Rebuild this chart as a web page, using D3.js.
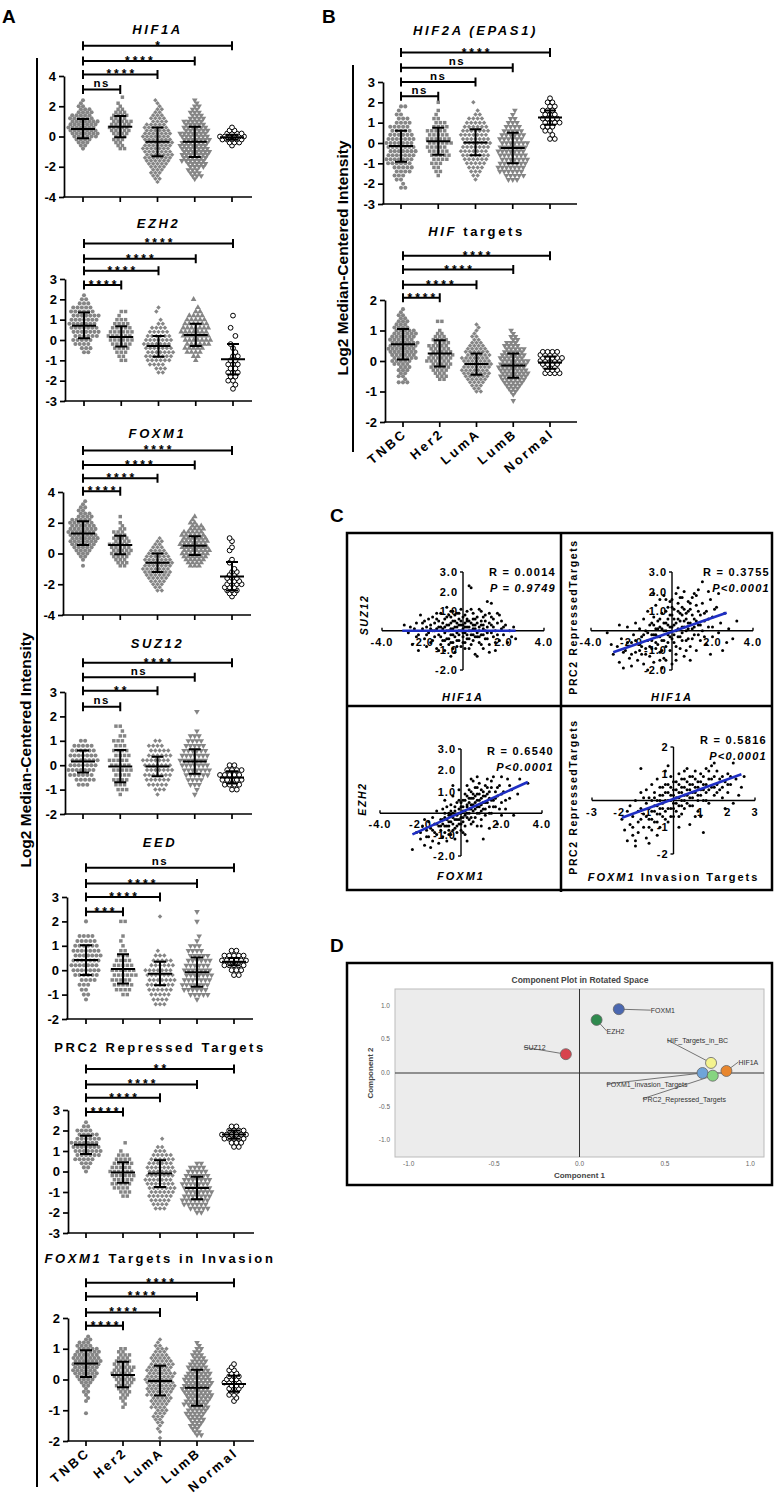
<!DOCTYPE html>
<html><head><meta charset="utf-8">
<script src="https://cdn.jsdelivr.net/npm/d3@7"></script>
<style>
body{margin:0;background:#fff;}
svg{display:block;}
</style></head><body>
<svg id="fig" width="775" height="1503"></svg>
<script>
const groups = ["TNBC","Her2","LumA","LumB","Normal"];

// ---------- Panel A / B dot-plot data (counts of points per value bin) ----------
// HIF1A
const hif1aStart = [-0.8,-0.8,-3.0,-2.8,-0.6];
const hif1aCounts = [
 [1,2,3,4,6,7,7,7,7,7,6,5,4,3,2,1,1],
 [2,2,2,3,3,4,5,5,5,5,4,4,3,2,1,1,0,1],
 [1,2,2,3,3,4,5,6,7,7,7,7,7,7,7,7,7,6,6,5,4,4,3,2,2,1,1,1],
 [1,3,3,3,4,5,6,6,7,7,7,7,7,7,7,7,6,6,5,5,4,3,3,2,2,1,1],
 [1,3,5,6,4,2,1]];
const hif1aMean = [0.5,0.65,-0.35,-0.35,-0.05];
const hif1aSdHi = [1.15,1.35,0.6,0.65,0.12];
const hif1aSdLo = [-0.12,-0.05,-1.3,-1.35,-0.22];
const hif1aSig = ["ns","****","****","*"];
const hif1aSigAt = [3.1,4.1,5.0,6.0];
const hif1aTicks = [-4,-2,0,2,4];

// EZH2
const ezh2Start = [-0.6,-1.0,-1.6,-1.0,-2.4];
const ezh2Counts = [
 [2,3,4,5,6,7,7,7,7,7,6,5,3,2,1],
 [2,2,3,4,5,6,6,6,5,4,3,1,2],
 [2,3,4,6,7,7,7,7,7,6,5,4,2,1,0,1,1],
 [1,2,4,5,6,7,7,7,7,6,5,4,2,1,0,1],
 [1,1,2,2,3,2,3,2,2,1,1,1,0,1,0,1,0,0,1]];
const ezh2Mean = [0.7,0.15,-0.3,0.25,-0.95];
const ezh2SdHi = [1.35,0.68,0.2,0.8,-0.2];
const ezh2SdLo = [0.08,-0.32,-0.82,-0.3,-1.7];
const ezh2Sig = ["****","****","****","****"];
const ezh2SigAt = [2.7,3.4,4.0,4.75];
const ezh2Ticks = [-3,-2,-1,0,1,2,3];

// FOXM1
const foxm1Start = [-0.8,-0.8,-2.4,-0.8,-2.8];
const foxm1Counts = [
 [1,0,1,2,3,4,5,6,7,7,7,7,7,6,6,5,4,3,2,2,1,1],
 [2,3,3,4,5,5,5,5,4,4,3,3,2,1,1,0,1],
 [2,2,3,4,5,6,7,7,7,7,7,6,5,4,3,2,2,1],
 [3,4,5,6,7,7,7,7,7,6,6,5,4,3,2,1,1],
 [1,2,3,3,4,3,3,2,2,1,0,1,1,0,0,1,1,0,1,1]];
const foxm1Mean = [1.3,0.55,-0.6,0.5,-1.5];
const foxm1SdHi = [2.1,1.15,0.0,1.12,-0.55];
const foxm1SdLo = [0.55,-0.05,-1.2,-0.1,-2.4];
const foxm1Sig = ["****","****","****","****"];
const foxm1SigAt = [4.05,4.9,5.75,6.7];
const foxm1Ticks = [-4,-2,0,2,4];

// SUZ12
const suz12Start = [-0.8,-1.2,-1.2,-1.2,-1.0];
const suz12Counts = [
 [3,5,6,7,7,7,7,6,5,2],
 [1,3,3,4,4,5,5,5,4,4,3,3,2,1,2],
 [1,3,5,6,7,7,7,7,6,5,4,2],
 [1,1,3,4,6,7,7,7,7,6,5,4,3,1,0,0,0,1],
 [2,4,5,5,4,2]];
const suz12Mean = [0.15,-0.05,-0.05,0.15,-0.5];
const suz12SdHi = [0.6,0.62,0.35,0.65,-0.25];
const suz12SdLo = [-0.3,-0.7,-0.45,-0.35,-0.75];
const suz12Sig = ["ns","**","ns","****"];
const suz12SigAt = [2.4,3.05,3.6,4.2];
const suz12Ticks = [-2,-1,0,1,2,3];

// EED
const eedStart = [-1.2,-1.0,-1.4,-1.2,-0.2];
const eedCounts = [
 [1,2,2,3,4,6,7,7,7,7,7,6,5,4,0,0,1],
 [2,4,5,5,6,6,5,4,3,2,1,1,1,0,0,2],
 [3,4,5,6,7,7,7,7,6,5,3,1,0,0,0,0,0,0,1],
 [1,5,6,7,7,7,7,6,6,5,4,3,1,1,0,0,1,0,1],
 [2,3,5,6,5,2]];
const eedMean = [0.42,0.05,-0.15,-0.08,0.35];
const eedSdHi = [1.02,0.65,0.35,0.52,0.5];
const eedSdLo = [-0.2,-0.55,-0.62,-0.68,0.2];
const eedSig = ["***","****","****","ns"];
const eedSigAt = [2.4,3.0,3.55,4.2];
const eedTicks = [-2,-1,0,1,2,3];

// PRC2 Repressed Targets
const prc2Start = [0.0,-1.2,-1.8,-2.0,1.2];
const prc2Counts = [
 [1,2,3,5,6,7,7,7,6,5,4,2,1],
 [2,3,4,5,5,6,6,5,5,4,3,1,0,1],
 [3,4,5,6,6,7,7,7,7,7,7,6,6,5,3,2,0,1],
 [2,5,6,7,7,7,7,7,7,6,5,4,2],
 [2,3,5,6,4,2]];
const prc2Mean = [1.3,-0.05,-0.1,-0.8,1.8];
const prc2SdHi = [1.75,0.45,0.55,-0.25,2.0];
const prc2SdLo = [0.85,-0.55,-0.75,-1.35,1.6];
const prc2Sig = ["****","****","****","**"];
const prc2SigAt = [2.9,3.6,4.25,5.0];
const prc2Ticks = [-3,-2,-1,0,1,2,3];

// FOXM1 Targets in Invasion
const invStart = [-1.1,-0.9,-1.9,-1.8,-0.7];
const invCounts = [
 [1,0,0,0,1,1,1,2,1,2,3,4,5,6,6,6,7,7,7,6,6,5,4,3,2,1],
 [1,1,1,2,2,3,3,4,4,5,5,5,5,5,4,4,3,3,2,2],
 [1,0,1,1,1,2,2,3,3,3,4,4,5,5,6,6,7,7,7,7,7,7,6,6,6,5,5,4,3,3,2,1,1],
 [2,2,2,3,3,4,4,5,5,5,6,6,6,7,7,7,7,7,7,6,6,5,5,4,4,3,3,2,2,1,1],
 [1,1,2,2,3,3,4,3,3,2,2,1,1]];
const invMean = [0.52,0.15,-0.05,-0.27,-0.15];
const invSdHi = [0.95,0.58,0.45,0.32,0.12];
const invSdLo = [0.08,-0.25,-0.52,-0.85,-0.4];
const invSig = ["****","****","****","****"];
const invSigAt = [1.75,2.18,2.7,3.15];
const invTicks = [-2,-1,0,1,2];

// HIF2A (EPAS1)
const hif2aStart = [-2.2,-1.6,-1.8,-1.8,0.2];
const hif2aCounts = [
 [2,1,2,3,4,5,6,7,7,7,7,7,7,6,5,5,4,3,2,1,2],
 [1,2,2,3,4,5,5,5,6,6,5,5,4,3,2,1,1,0,1],
 [1,2,3,4,5,6,7,7,7,7,7,7,7,6,5,4,2,1,0,1],
 [3,5,6,7,7,7,7,7,7,7,6,6,5,4,3,2,1,1],
 [2,1,2,3,4,4,3,3,2,2,1]];
const hif2aMean = [-0.15,0.08,0.03,-0.25,1.25];
const hif2aSdHi = [0.6,0.75,0.68,0.5,1.6];
const hif2aSdLo = [-0.92,-0.58,-0.6,-1.0,0.9];
const hif2aSig = ["ns","ns","ns","****"];
const hif2aSigAt = [2.3,3.0,3.7,4.45];
const hif2aTicks = [-3,-2,-1,0,1,2,3];

// HIF targets
const hifTStart = [-0.7,-0.6,-1.0,-1.3,-0.4];
const hifTCounts = [
 [3,1,2,2,3,3,4,5,6,6,7,7,7,7,6,6,6,5,4,3,3,2,2,1,1],
 [2,3,3,4,5,5,6,6,6,5,5,5,4,4,3,2,1,0,0,2],
 [2,2,3,4,5,6,7,7,7,7,7,7,6,6,5,4,3,2,2,1,1,1,1],
 [1,0,1,2,3,4,5,6,7,7,7,7,7,7,6,6,5,5,4,3,2,2,1,1],
 [4,3,3,4,5,5,4,4]];
const hifTMean = [0.55,0.25,-0.1,-0.15,-0.05];
const hifTSdHi = [1.05,0.68,0.25,0.25,0.15];
const hifTSdLo = [0.05,-0.18,-0.45,-0.55,-0.25];
const hifTSig = ["****","****","****","****"];
const hifTSigAt = [2.07,2.5,3.0,3.45];
const hifTTicks = [-2,-1,0,1,2];

// ---------- Panel C scatter data ----------
const c1Points = [[-2.9,0.3],[-2.7,-0.1],[-2.6,0.2],[-2.5,-0.7],[-2.4,0.1],[-2.3,0.4],[-2.2,-0.2],[-2.1,0.8],[-2.0,0.1],[-1.9,-0.4],[-1.9,0.5],[-1.8,0.2],[-1.7,-0.1],[-1.7,0.6],[-1.6,-0.6],[-1.6,0.3],[-1.5,0.0],[-1.5,0.7],[-1.4,-0.3],[-1.4,0.4],[-1.3,0.1],[-1.3,-0.9],[-1.2,0.5],[-1.2,-0.2],[-1.1,0.2],[-1.1,0.9],[-1.0,-0.5],[-1.0,0.1],[-0.9,0.6],[-0.9,-0.1],[-0.9,-1.0],[-0.8,0.3],[-0.8,-0.4],[-0.7,0.8],[-0.7,0.0],[-0.7,-0.7],[-0.6,0.4],[-0.6,-0.2],[-0.5,1.0],[-0.5,0.1],[-0.5,-0.6],[-0.4,0.5],[-0.4,-0.3],[-0.4,-1.1],[-0.3,0.2],[-0.3,0.9],[-0.3,-0.1],[-0.2,0.6],[-0.2,-0.5],[-0.2,0.0],[-0.1,0.3],[-0.1,-0.8],[-0.1,1.1],[0.0,0.1],[0.0,-0.3],[0.0,0.7],[0.1,-0.1],[0.1,0.4],[0.1,-0.9],[0.2,0.2],[0.2,-0.4],[0.2,1.0],[0.3,2.3],[0.4,2.2],[0.3,0.0],[0.3,0.5],[0.4,-0.2],[0.4,-0.7],[0.5,0.3],[0.5,0.9],[0.5,-0.5],[0.6,0.1],[0.6,-1.2],[0.6,0.6],[0.7,-0.3],[0.7,0.4],[0.8,0.0],[0.8,1.1],[0.8,-0.6],[0.9,0.3],[0.9,-0.2],[1.0,0.7],[1.0,-0.9],[1.0,0.1],[1.1,0.5],[1.1,-0.4],[1.2,0.2],[1.2,-0.1],[1.2,1.5],[1.3,0.9],[1.3,-0.7],[1.4,0.3],[1.4,1.4],[1.5,-0.3],[1.5,0.6],[1.6,0.0],[1.6,-1.0],[1.7,0.4],[1.8,-0.5],[1.8,0.8],[1.9,0.1],[2.0,-0.2],[2.1,0.3],[2.2,-0.6],[2.3,0.0],[2.4,-0.3],[2.5,0.2],[2.6,-0.4],[-1.8,-0.8],[-1.2,-1.0],[-0.6,-1.3],[0.7,-1.3],[1.3,-1.1],[-2.2,-1.0],[0.9,1.0],[-0.8,1.2],[1.6,-0.6],[-1.5,-0.5],[0.2,0.5],[-0.6,0.7],[0.5,-0.2],[-0.2,0.3],[0.0,-0.6],
 [-1.4,0.0],[-1.3,0.6],[-1.2,0.2],[-1.1,-0.3],[-1.0,0.4],[-0.9,0.2],[-0.9,-0.5],[-0.8,0.0],[-0.8,0.7],[-0.7,0.3],[-0.7,-0.4],[-0.6,0.1],[-0.6,-0.6],[-0.5,0.5],[-0.5,-0.2],[-0.4,0.2],[-0.4,0.8],[-0.3,-0.5],[-0.3,0.4],[-0.2,-0.2],[-0.2,0.9],[-0.1,0.0],[-0.1,0.5],[0.0,0.3],[0.0,-0.1],[0.1,0.8],[0.1,0.2],[0.2,-0.2],[0.2,0.6],[0.3,0.2],[0.3,-0.4],[0.4,0.4],[0.4,0.0],[0.5,0.6],[0.5,0.1],[0.6,-0.3],[0.6,0.3],[0.7,0.7],[0.7,-0.1],[0.8,0.2],[0.8,-0.3],[0.9,0.5],[1.0,-0.2],[1.0,0.3],[1.1,0.0],[1.1,0.8],[1.2,-0.4],[1.3,0.4],[1.4,-0.1],[1.5,0.2],[1.7,-0.2],[1.9,0.5],[2.0,0.2],[-1.6,0.1],[-1.8,-0.2],[-2.0,0.4],[-2.3,-0.3],[-1.1,-0.7],[-0.3,-0.8],[0.3,-0.9],[0.9,-0.7],[1.4,0.7],[-0.6,1.0],[0.4,1.1],[-1.3,0.9],[0.1,-0.6],[-0.5,-0.9],[1.7,0.9]];
const c2Points = [[-3.2,-0.1],[-2.9,-1.2],[-2.7,-0.8],[-2.6,-1.6],[-2.5,-0.4],[-2.4,-1.9],[-2.3,-1.0],[-2.2,0.2],[-2.1,-1.4],[-2.0,-0.6],[-2.0,-1.8],[-1.9,-0.2],[-1.8,-1.1],[-1.8,0.4],[-1.7,-1.5],[-1.6,-0.7],[-1.6,0.1],[-1.5,-1.2],[-1.5,-0.3],[-1.4,0.6],[-1.4,-1.7],[-1.3,-0.9],[-1.3,0.0],[-1.2,-0.5],[-1.2,1.0],[-1.1,-1.3],[-1.1,0.3],[-1.0,-0.2],[-1.0,-0.9],[-0.9,0.7],[-0.9,-1.6],[-0.8,0.1],[-0.8,-0.6],[-0.8,1.3],[-0.7,-0.3],[-0.7,0.5],[-0.6,-1.1],[-0.6,1.6],[-0.6,0.2],[-0.5,-0.5],[-0.5,0.9],[-0.4,-1.4],[-0.4,0.0],[-0.4,1.8],[-0.3,0.4],[-0.3,-0.8],[-0.2,1.2],[-0.2,-0.2],[-0.2,0.6],[-0.1,-1.0],[-0.1,0.2],[-0.1,1.5],[0.0,-0.4],[0.0,0.8],[0.0,-1.7],[0.1,0.3],[0.1,1.1],[0.1,-0.6],[0.2,1.9],[0.2,0.0],[0.2,-1.2],[0.3,0.6],[0.3,1.4],[0.3,-0.3],[0.4,0.9],[0.4,-0.9],[0.4,1.7],[0.5,0.2],[0.5,-0.5],[0.5,1.2],[0.6,0.5],[0.6,-1.3],[0.6,2.0],[0.7,0.0],[0.7,0.9],[0.8,1.5],[0.8,-0.4],[0.8,0.4],[0.9,1.1],[0.9,-0.8],[1.0,0.1],[1.0,1.7],[1.1,0.6],[1.1,-0.2],[1.2,1.3],[1.2,-1.0],[1.3,0.3],[1.3,2.1],[1.4,0.8],[1.4,-0.5],[1.5,1.4],[1.5,0.0],[1.6,0.5],[1.7,1.0],[1.7,-0.7],[1.8,0.2],[1.9,1.6],[2.0,-0.3],[2.0,0.7],[2.2,1.2],[2.3,-0.1],[2.4,0.4],[2.5,-1.0],[2.6,0.9],[2.8,0.1],[3.0,-0.4],[3.2,0.5],[1.8,2.0],[1.5,2.5],[2.3,1.9],[-0.5,-1.9],[-1.2,-2.0],[0.9,-1.5],[-2.6,0.3],[-3.0,-0.7],[0.3,2.2],[-0.9,1.9],[1.1,1.9],[0.7,-1.0],[-0.3,-1.5],[2.7,-0.6],[1.9,-1.2],
 [-1.5,-0.8],[-1.4,-0.2],[-1.3,-1.2],[-1.2,-0.1],[-1.1,-0.8],[-1.0,0.4],[-1.0,-0.5],[-0.9,-0.2],[-0.9,0.3],[-0.8,-0.9],[-0.8,-0.2],[-0.7,0.1],[-0.7,-0.7],[-0.6,-0.3],[-0.6,0.6],[-0.5,0.1],[-0.5,-1.0],[-0.4,0.4],[-0.4,-0.5],[-0.3,0.0],[-0.3,1.0],[-0.2,-0.6],[-0.2,0.3],[-0.1,0.8],[-0.1,-0.3],[0.0,0.2],[0.0,1.2],[0.1,-0.2],[0.1,0.6],[0.2,0.4],[0.2,-0.8],[0.3,1.0],[0.3,0.1],[0.4,-0.3],[0.4,0.5],[0.5,0.8],[0.5,-0.1],[0.6,1.1],[0.6,0.2],[0.7,0.6],[0.7,-0.5],[0.8,0.1],[0.8,1.0],[0.9,0.4],[0.9,1.4],[1.0,-0.4],[1.0,0.8],[1.1,0.2],[1.2,0.5],[1.3,1.0],[1.3,-0.2],[1.4,0.3],[1.6,0.9],[1.6,-0.3],[1.8,0.6],[2.0,0.2],[2.1,1.1],[-1.6,-1.0],[-1.8,-0.5],[-2.0,-1.2],[-2.2,-0.6],[-2.4,-1.1],[-0.3,1.6],[0.0,1.6],[0.5,1.7],[-0.6,-1.5],[0.2,-1.5],[1.2,1.8]];
const c3Points = [[-2.4,-1.7],[-2.2,-0.9],[-2.0,-1.2],[-1.9,-0.6],[-1.8,-1.5],[-1.7,-0.8],[-1.6,-0.4],[-1.6,-1.1],[-1.5,-0.7],[-1.4,-1.3],[-1.4,-0.2],[-1.3,-0.9],[-1.3,-0.5],[-1.2,-1.0],[-1.2,0.1],[-1.1,-0.6],[-1.1,-1.4],[-1.0,-0.3],[-1.0,-0.8],[-0.9,0.2],[-0.9,-1.1],[-0.9,-0.5],[-0.8,-0.2],[-0.8,-0.9],[-0.7,-0.6],[-0.7,0.3],[-0.7,-1.3],[-0.6,-0.4],[-0.6,0.0],[-0.6,-0.8],[-0.5,-0.1],[-0.5,-1.0],[-0.5,0.4],[-0.4,-0.5],[-0.4,-0.2],[-0.4,0.8],[-0.3,-0.7],[-0.3,0.1],[-0.3,-1.2],[-0.2,-0.3],[-0.2,0.5],[-0.2,-0.9],[-0.1,0.0],[-0.1,-0.5],[-0.1,1.1],[0.0,0.3],[0.0,-0.2],[0.0,-0.8],[0.1,0.6],[0.1,-0.4],[0.1,0.1],[0.2,0.9],[0.2,-0.1],[0.2,-0.6],[0.3,0.4],[0.3,1.3],[0.3,0.0],[0.4,-0.3],[0.4,0.7],[0.4,0.2],[0.5,1.0],[0.5,-0.5],[0.5,0.4],[0.6,0.1],[0.6,1.5],[0.6,0.7],[0.7,-0.2],[0.7,0.5],[0.7,1.2],[0.8,0.3],[0.8,0.9],[0.8,-0.6],[0.9,0.6],[0.9,1.4],[0.9,0.0],[1.0,0.4],[1.0,1.1],[1.0,-0.3],[1.1,0.8],[1.1,0.2],[1.2,1.3],[1.2,0.5],[1.2,-0.1],[1.3,0.9],[1.3,1.6],[1.4,0.3],[1.4,0.7],[1.5,1.2],[1.5,0.0],[1.6,0.6],[1.6,1.7],[1.7,1.0],[1.7,0.3],[1.8,0.8],[1.8,-0.5],[1.9,1.3],[2.0,0.5],[2.0,-0.1],[2.1,1.0],[2.2,0.2],[2.3,1.6],[2.4,0.7],[2.5,1.1],[2.6,-0.1],[2.8,0.9],[2.9,1.6],[3.3,1.4],[1.1,-1.2],[0.3,-1.3],[-1.8,-0.3],[0.5,1.6],[-0.4,1.3],[2.0,1.7],[1.4,-0.7],[0.8,1.7],[-1.5,-1.6],[-0.8,0.6],[0.2,-1.0],[1.9,0.2],[-0.1,0.6],
 [-1.0,-0.6],[-0.9,-0.3],[-0.8,-0.6],[-0.8,0.0],[-0.7,-0.3],[-0.6,-0.6],[-0.6,-0.1],[-0.5,-0.4],[-0.5,0.1],[-0.4,-0.8],[-0.4,0.0],[-0.3,-0.3],[-0.3,0.3],[-0.2,-0.1],[-0.2,-0.6],[-0.1,0.2],[-0.1,-0.3],[0.0,0.0],[0.0,0.5],[0.0,-0.5],[0.1,0.3],[0.1,-0.2],[0.2,0.1],[0.2,0.6],[0.3,-0.2],[0.3,0.3],[0.3,0.8],[0.4,0.0],[0.4,0.5],[0.5,0.2],[0.5,0.7],[0.5,-0.2],[0.6,0.4],[0.6,0.9],[0.6,-0.4],[0.7,0.2],[0.7,0.8],[0.8,0.0],[0.8,0.6],[0.8,1.2],[0.9,0.3],[0.9,0.9],[1.0,0.1],[1.0,0.7],[1.1,0.5],[1.1,1.0],[1.2,0.2],[1.2,0.8],[1.3,0.5],[1.3,1.2],[1.4,0.0],[1.4,1.0],[1.5,0.6],[1.6,0.3],[1.7,0.7],[1.8,1.2],[2.0,0.9],[2.2,0.6],[-1.2,-0.5],[-1.4,-0.8],[-1.7,-1.1],[-2.0,-0.9],[0.1,-0.9],[-0.6,-1.0],[1.5,1.5],[0.4,1.1],[2.4,1.3],[1.0,-0.6]];
const c4Points = [[-1.9,-0.7],[-1.8,-1.1],[-1.7,-0.4],[-1.7,-1.5],[-1.6,-0.9],[-1.6,-0.2],[-1.5,-1.3],[-1.5,-0.6],[-1.4,-1.7],[-1.4,0.0],[-1.3,-0.8],[-1.3,-1.2],[-1.2,-0.3],[-1.2,0.3],[-1.1,-1.0],[-1.1,-0.5],[-1.0,-0.1],[-1.0,-1.4],[-1.0,0.4],[-0.9,-0.7],[-0.9,0.1],[-0.8,-0.4],[-0.8,-1.1],[-0.8,0.6],[-0.7,-0.2],[-0.7,0.3],[-0.7,-0.8],[-0.6,0.0],[-0.6,-0.5],[-0.6,0.8],[-0.5,-0.3],[-0.5,0.2],[-0.5,-1.0],[-0.4,0.5],[-0.4,-0.1],[-0.4,-0.6],[-0.3,0.3],[-0.3,-0.4],[-0.3,1.1],[-0.2,0.0],[-0.2,0.6],[-0.2,-0.8],[-0.1,0.2],[-0.1,-0.3],[-0.1,0.9],[0.0,0.4],[0.0,-0.1],[0.0,-0.6],[0.1,0.1],[0.1,0.7],[0.1,-0.4],[0.2,0.3],[0.2,-0.2],[0.2,1.0],[0.3,0.5],[0.3,-0.5],[0.3,0.0],[0.4,0.2],[0.4,0.8],[0.4,-0.3],[0.5,0.4],[0.5,-0.1],[0.5,1.2],[0.6,0.6],[0.6,0.1],[0.7,-0.2],[0.7,0.9],[0.7,0.3],[0.8,0.5],[0.8,1.1],[0.9,0.2],[0.9,0.7],[0.9,-0.4],[1.0,0.4],[1.0,1.0],[1.1,0.6],[1.1,0.0],[1.2,1.2],[1.2,0.3],[1.3,0.8],[1.3,-0.1],[1.4,0.5],[1.4,1.3],[1.5,0.9],[1.5,0.2],[1.6,0.6],[1.6,1.1],[1.7,0.4],[1.8,0.9],[1.8,0.1],[1.9,0.7],[2.0,1.0],[2.0,0.3],[2.1,0.6],[2.2,-0.1],[2.3,0.8],[2.4,0.2],[2.6,0.9],[1.1,-1.2],[-1.2,1.2],[0.6,-0.9],[1.5,1.4],[2.2,1.4],[-0.9,-1.6],[-1.4,-1.5],[0.2,-1.0],[-0.6,-1.3],[1.0,-0.6],[2.5,0.5],[1.9,-0.3],[0.8,-0.6],[-0.2,1.3],
 [-1.0,-0.6],[-0.9,-0.3],[-0.9,-1.0],[-0.8,0.0],[-0.8,-0.7],[-0.7,-0.4],[-0.7,0.1],[-0.6,-0.2],[-0.6,-0.8],[-0.5,0.0],[-0.5,-0.5],[-0.4,0.2],[-0.4,-0.3],[-0.3,0.0],[-0.3,0.6],[-0.3,-0.7],[-0.2,0.3],[-0.2,-0.3],[-0.1,0.5],[-0.1,0.0],[0.0,0.2],[0.0,0.7],[0.0,-0.3],[0.1,0.4],[0.1,-0.1],[0.2,0.1],[0.2,0.6],[0.3,0.3],[0.3,0.8],[0.3,-0.2],[0.4,0.5],[0.4,0.0],[0.5,0.2],[0.5,0.7],[0.6,0.4],[0.6,-0.2],[0.6,0.9],[0.7,0.1],[0.7,0.6],[0.8,0.3],[0.8,0.8],[0.9,0.5],[0.9,0.0],[1.0,0.7],[1.0,0.2],[1.1,0.4],[1.1,0.9],[1.2,0.6],[1.2,0.0],[1.3,0.4],[1.4,0.8],[1.5,0.5],[1.6,0.3],[1.7,0.8],[1.8,0.5],[2.0,0.6],[-1.2,-0.7],[-1.3,-0.4],[-1.5,-1.0],[-1.1,0.1],[0.2,-0.6],[-0.5,0.5],[1.3,1.1],[0.4,1.1],[2.1,0.9],[-0.1,-0.6]];
const cFitSlope = [0.0, 0.36, 0.43, 0.37];
const cFitIntercept = [0.0, -0.05, 0.04, 0.055];
const cFitFrom = [-3.0, -2.9, -2.4, -1.9];
const cFitTo = [2.6, 2.7, 3.3, 2.5];
const cR = ["R = 0.0014","R = 0.3755","R = 0.6540","R = 0.5816"];
const cP = ["P = 0.9749","P<0.0001","P<0.0001","P<0.0001"];
const cXTicks123 = [-4,-2,2,4];
const cYTicks123 = [-2,-1,1,2,3];
const cXTicks4 = [-3,-2,-1,1,2,3];
const cYTicks4 = [-2,-1,1,2];

// ---------- Panel D data ----------
const compNames = ["FOXM1","EZH2","SUZ12","HIF_Targets_in_BC","HIF1A","FOXM1_Invasion_Targets","PRC2_Repressed_Targets"];
const comp1 = [0.23,0.10,-0.08,0.77,0.86,0.72,0.78];
const comp2 = [0.95,0.79,0.28,0.15,0.03,0.00,-0.04];
const compColors = ["#4a67b0","#2f8a4e","#d8434e","#f4f38e","#e8862d","#6fa4d9","#86d480"];
const dTicks = [-1.0,-0.5,0.0,0.5,1.0];

// ---------- drawing ----------
const FONT = "Arial, 'Liberation Sans', Helvetica, sans-serif";
const svg = d3.select("#fig").attr("font-family", FONT);
const GRAY = "#858585";

function styled(sel, parts){ parts.forEach(([t,it]) => sel.append("tspan").attr("font-style", it ? "italic" : "normal").text(t)); }

const symbols = {
  circle: d3.symbol(d3.symbolCircle, 13)(),
  square: d3.symbol(d3.symbolSquare, 12)(),
  diamond: d3.symbol(d3.symbolSquare, 10)(),
  triUp: d3.symbol(d3.symbolTriangle, 14)(),
  triDown: d3.symbol(d3.symbolTriangle, 14)()
};
const symRot = {circle:0, square:0, diamond:45, triUp:0, triDown:180};

function dotPanel(p){
  const g = svg.append("g");
  const y = d3.scaleLinear().domain(p.domain).range([p.yBot, p.yTop]);
  const x = d3.scalePoint().domain(groups).range([p.g0, p.g1]);
  const tt = g.append("text").attr("x", (p.g0+p.g1)/2).attr("y", p.titleY).attr("text-anchor","middle")
    .attr("font-size",13).attr("font-weight","bold").attr("letter-spacing",2.6);
  styled(tt, p.title);
  const ax = g.append("g").attr("transform",`translate(${p.axisX},0)`)
    .call(d3.axisLeft(y).tickValues(p.ticks).tickFormat(d=>String(d)).tickSize(5).tickSizeOuter(0));
  ax.attr("font-family", FONT);
  ax.select(".domain").attr("stroke-width",1.7);
  ax.selectAll(".tick line").attr("stroke-width",1.7);
  ax.selectAll(".tick text").attr("font-size",13).attr("font-weight","bold").attr("x",-8);
  g.append("line").attr("x1",p.axisX-0.8).attr("x2",p.xEnd).attr("y1",p.yBot).attr("y2",p.yBot).attr("stroke","#000").attr("stroke-width",1.7);
  g.selectAll("line.xt").data(groups).join("line").attr("class","xt")
    .attr("x1",d=>x(d)).attr("x2",d=>x(d)).attr("y1",p.yBot).attr("y2",p.yBot+5).attr("stroke","#000").attr("stroke-width",1.7);
  groups.forEach((gn, gi) => {
    const cx = x(gn);
    const open = gi === 4;
    const kind = p.shapes[gi];
    const sp = open ? 4.8 : 4.3, maxW = open ? 24 : 25;
    p.counts[gi].forEach((n, bi) => {
      if (!n) return;
      const v = p.start[gi] + bi*p.step;
      const s = n > 1 ? Math.min(sp, maxW/(n-1)) : sp;
      const wantHalf = bi % 2 === 1;
      const isHalf = n % 2 === 0;
      const shift = (wantHalf !== isHalf) ? ((bi % 4 < 2) ? s/2 : -s/2) : 0;
      for (let j=0;j<n;j++){
        const px = cx + (j-(n-1)/2)*s + shift, py = y(v);
        if (open){
          g.append("circle").attr("cx",px).attr("cy",py).attr("r",2.4).attr("fill","#fff").attr("stroke","#000").attr("stroke-width",1);
        } else {
          g.append("path").attr("d",symbols[kind]).attr("transform",`translate(${px},${py}) rotate(${symRot[kind]})`).attr("fill",GRAY);
        }
      }
    });
    const ym = y(p.mean[gi]), yh = y(p.hi[gi]), yl = y(p.lo[gi]);
    const eb = d3.path();
    eb.moveTo(cx, yh); eb.lineTo(cx, yl);
    eb.moveTo(cx-12, ym); eb.lineTo(cx+12, ym);
    eb.moveTo(cx-6, yh); eb.lineTo(cx+6, yh);
    eb.moveTo(cx-6, yl); eb.lineTo(cx+6, yl);
    g.append("path").attr("d", eb.toString()).attr("stroke","#000").attr("stroke-width",2).attr("fill","none");
  });
  p.sig.forEach((lab, k) => {
    const ly = y(p.sigAt[k]);
    const x1 = x(groups[0]), x2 = x(groups[k+1]);
    const bp = d3.path();
    bp.moveTo(x1, ly-4.5); bp.lineTo(x1, ly+4.5);
    bp.moveTo(x1, ly); bp.lineTo(x2, ly);
    bp.moveTo(x2, ly-4.5); bp.lineTo(x2, ly+4.5);
    g.append("path").attr("d", bp.toString()).attr("stroke","#000").attr("stroke-width",2).attr("fill","none");
    const star = lab.indexOf("*") >= 0;
    g.append("text").attr("x", (x1+x2)/2 + (star?1.5:0)).attr("y", star ? ly+4 : ly-2.5).attr("text-anchor","middle")
      .attr("font-size", star?12:11.5).attr("font-weight","bold").attr("letter-spacing", star?3:1.5).text(lab);
  });
  if (p.catLabels){
    groups.forEach(gn => {
      g.append("text").attr("transform",`translate(${x(gn)+5},${p.yBot+13}) rotate(-40)`).attr("text-anchor","end")
       .attr("font-size",13).attr("font-weight","bold").attr("letter-spacing",2.6).text(gn);
    });
  }
}

const shpDown = ["circle","square","diamond","triDown","open"];
const shpUp = ["circle","square","diamond","triUp","open"];
const panels = [
 {title:[["HIF1A",true]], start:hif1aStart, counts:hif1aCounts, mean:hif1aMean, hi:hif1aSdHi, lo:hif1aSdLo, sig:hif1aSig, sigAt:hif1aSigAt, ticks:hif1aTicks,
  step:0.2, domain:[-4,4], yTop:76, yBot:197, axisX:64, g0:83, g1:232, xEnd:252, titleY:34, shapes:shpDown},
 {title:[["EZH2",true]], start:ezh2Start, counts:ezh2Counts, mean:ezh2Mean, hi:ezh2SdHi, lo:ezh2SdLo, sig:ezh2Sig, sigAt:ezh2SigAt, ticks:ezh2Ticks,
  step:0.2, domain:[-3,3], yTop:279, yBot:401, axisX:65, g0:84, g1:233, xEnd:252, titleY:228, shapes:shpUp},
 {title:[["FOXM1",true]], start:foxm1Start, counts:foxm1Counts, mean:foxm1Mean, hi:foxm1SdHi, lo:foxm1SdLo, sig:foxm1Sig, sigAt:foxm1SigAt, ticks:foxm1Ticks,
  step:0.2, domain:[-4,4], yTop:492, yBot:615, axisX:63, g0:83, g1:232, xEnd:251, titleY:438, shapes:shpUp},
 {title:[["SUZ12",true]], start:suz12Start, counts:suz12Counts, mean:suz12Mean, hi:suz12SdHi, lo:suz12SdLo, sig:suz12Sig, sigAt:suz12SigAt, ticks:suz12Ticks,
  step:0.2, domain:[-2,3], yTop:692, yBot:814, axisX:65, g0:83, g1:232, xEnd:252, titleY:648, shapes:shpDown},
 {title:[["EED",true]], start:eedStart, counts:eedCounts, mean:eedMean, hi:eedSdHi, lo:eedSdLo, sig:eedSig, sigAt:eedSigAt, ticks:eedTicks,
  step:0.2, domain:[-2,3], yTop:897, yBot:1019, axisX:67, g0:86, g1:234, xEnd:253, titleY:847, shapes:shpDown},
 {title:[["PRC2 Repressed Targets",false]], start:prc2Start, counts:prc2Counts, mean:prc2Mean, hi:prc2SdHi, lo:prc2SdLo, sig:prc2Sig, sigAt:prc2SigAt, ticks:prc2Ticks,
  step:0.2, domain:[-3,3], yTop:1110, yBot:1233, axisX:68, g0:86, g1:234, xEnd:254, titleY:1052, shapes:shpDown},
 {title:[["FOXM1",true],[" Targets in Invasion",false]], start:invStart, counts:invCounts, mean:invMean, hi:invSdHi, lo:invSdLo, sig:invSig, sigAt:invSigAt, ticks:invTicks,
  step:0.1, domain:[-2,2], yTop:1318, yBot:1441, axisX:68, g0:86, g1:234, xEnd:254, titleY:1263, shapes:shpDown, catLabels:true},
 {title:[["HIF2A (EPAS1)",true]], start:hif2aStart, counts:hif2aCounts, mean:hif2aMean, hi:hif2aSdHi, lo:hif2aSdLo, sig:hif2aSig, sigAt:hif2aSigAt, ticks:hif2aTicks,
  step:0.2, domain:[-3,3], yTop:82, yBot:204, axisX:383, g0:401, g1:550, xEnd:577, titleY:35, shapes:shpDown},
 {title:[["HIF",true],[" targets",false]], start:hifTStart, counts:hifTCounts, mean:hifTMean, hi:hifTSdHi, lo:hifTSdLo, sig:hifTSig, sigAt:hifTSigAt, ticks:hifTTicks,
  step:0.1, domain:[-2,2], yTop:300, yBot:422, axisX:385, g0:403, g1:550, xEnd:577, titleY:236, shapes:shpDown, catLabels:true}
];
panels.forEach(dotPanel);

[["A",2,23],["B",322,23],["C",330,522],["D",330,952]].forEach(([t,x,y]) =>
  svg.append("text").attr("x",x).attr("y",y).attr("font-size",19).attr("font-weight","bold").text(t));

svg.append("line").attr("x1",37).attr("x2",37).attr("y1",58).attr("y2",1487).attr("stroke","#000").attr("stroke-width",2);
svg.append("text").attr("transform","translate(31,750) rotate(-90)").attr("text-anchor","middle").attr("font-size",15.5).attr("font-weight","bold").text("Log2 Median-Centered Intensity");
svg.append("line").attr("x1",353).attr("x2",353).attr("y1",65).attr("y2",452).attr("stroke","#000").attr("stroke-width",2);
svg.append("text").attr("transform","translate(348,258) rotate(-90)").attr("text-anchor","middle").attr("font-size",15.5).attr("font-weight","bold").text("Log2 Median-Centered Intensity");

// ---------- Panel C ----------
const cPanels = [
 {pts:c1Points, xDom:[-4,4], xR:[382,544], yDom:[-2,3], yR:[670,572], xt:cXTicks123, yt:cYTicks123, fmt:1, rx:556, ry:576,
  ylab:[["SUZ12",true]], ylx:368, yly:615, xlab:[["HIF1A",true]], xly:701},
 {pts:c2Points, xDom:[-4,4], xR:[591,753], yDom:[-2,3], yR:[670,572], xt:cXTicks123, yt:cYTicks123, fmt:1, rx:770, ry:576,
  ylab:[["PRC2 RepressedTargets",false]], ylx:577, yly:617, xlab:[["HIF1A",true]], xly:701},
 {pts:c3Points, xDom:[-4,4], xR:[380,542], yDom:[-2,3], yR:[856,749], xt:cXTicks123, yt:cYTicks123, fmt:1, rx:554, ry:755,
  ylab:[["EZH2",true]], ylx:366, yly:799, xlab:[["FOXM1",true]], xly:880},
 {pts:c4Points, xDom:[-3,3], xR:[592,755], yDom:[-2,2], yR:[854,747], xt:cXTicks4, yt:cYTicks4, fmt:0, rx:767, ry:744,
  ylab:[["PRC2 RepressedTargets",false]], ylx:577, yly:797, xlab:[["FOXM1",true],[" Invasion Targets",false]], xly:881}
];
cPanels.forEach((c, i) => {
  const g = svg.append("g");
  const x = d3.scaleLinear().domain(c.xDom).range(c.xR);
  const y = d3.scaleLinear().domain(c.yDom).range(c.yR);
  const f = v => c.fmt ? v.toFixed(1) : String(v);
  g.append("line").attr("x1",x(c.xDom[0])).attr("x2",x(c.xDom[1])).attr("y1",y(0)).attr("y2",y(0)).attr("stroke","#000").attr("stroke-width",1.4);
  g.append("line").attr("x1",x(0)).attr("x2",x(0)).attr("y1",y(c.yDom[0])).attr("y2",y(c.yDom[1])).attr("stroke","#000").attr("stroke-width",1.4);
  [c.xDom[0], c.xDom[1]].forEach(v => g.append("line").attr("x1",x(v)).attr("x2",x(v)).attr("y1",y(0)).attr("y2",y(0)-3).attr("stroke","#000").attr("stroke-width",1.4));
  [c.yDom[0], c.yDom[1]].forEach(v => g.append("line").attr("x1",x(0)).attr("x2",x(0)-3).attr("y1",y(v)).attr("y2",y(v)).attr("stroke","#000").attr("stroke-width",1.4));
  g.selectAll("circle").data(c.pts).join("circle").attr("cx",d=>x(d[0])).attr("cy",d=>y(d[1])).attr("r",1.5).attr("fill","#000");
  c.xt.forEach(v => g.append("text").attr("x",x(v)).attr("y",y(0)+15).attr("text-anchor","middle").attr("font-size",11).attr("font-weight","bold").attr("letter-spacing",1).text(f(v)));
  c.yt.forEach(v => g.append("text").attr("x",x(0)-5).attr("y",y(v)+4).attr("text-anchor","end").attr("font-size",11).attr("font-weight","bold").attr("letter-spacing",1).text(f(v)));
  g.append("line").attr("x1",x(cFitFrom[i])).attr("y1",y(cFitSlope[i]*cFitFrom[i]+cFitIntercept[i]))
   .attr("x2",x(cFitTo[i])).attr("y2",y(cFitSlope[i]*cFitTo[i]+cFitIntercept[i])).attr("stroke","#1f2fc4").attr("stroke-width",2.6);
  g.append("text").attr("x",c.rx).attr("y",c.ry).attr("text-anchor","end").attr("font-size",11).attr("font-weight","bold").attr("letter-spacing",1.3).text(cR[i]);
  g.append("text").attr("x",c.rx).attr("y",c.ry+16).attr("text-anchor","end").attr("font-size",11).attr("font-weight","bold").attr("font-style","italic").attr("letter-spacing",1.3).text(cP[i]);
  const yl = g.append("text").attr("transform",`translate(${c.ylx},${c.yly}) rotate(-90)`).attr("text-anchor","middle").attr("font-size",10.5).attr("font-weight","bold").attr("letter-spacing",1.6);
  styled(yl, c.ylab);
  const xl = g.append("text").attr("x",x(0)).attr("y",c.xly).attr("text-anchor","middle").attr("font-size",11).attr("font-weight","bold").attr("letter-spacing",2);
  styled(xl, c.xlab);
});
svg.append("rect").attr("x",347).attr("y",533).attr("width",425).attr("height",357).attr("fill","none").attr("stroke","#000").attr("stroke-width",2.5);
svg.append("line").attr("x1",561).attr("x2",561).attr("y1",533).attr("y2",892).attr("stroke","#000").attr("stroke-width",2.5);
svg.append("line").attr("x1",347).attr("x2",772).attr("y1",706).attr("y2",706).attr("stroke","#000").attr("stroke-width",2.5);

// ---------- Panel D ----------
{
  const g = svg.append("g");
  svg.append("rect").attr("x",347).attr("y",963).attr("width",425).attr("height",222).attr("fill","none").attr("stroke","#000").attr("stroke-width",2.5);
  g.append("text").attr("x",580).attr("y",983).attr("text-anchor","middle").attr("font-size",8.5).attr("font-weight","bold").attr("fill","#444").text("Component Plot in Rotated Space");
  const x = d3.scaleLinear().domain([-1.08,1.08]).range([395,764]);
  const y = d3.scaleLinear().domain([-1.25,1.25]).range([1157,989]);
  g.append("rect").attr("x",395).attr("y",989).attr("width",369).attr("height",168).attr("fill","#ececec").attr("stroke","#bbb").attr("stroke-width",1);
  g.append("line").attr("x1",x(0)).attr("x2",x(0)).attr("y1",989).attr("y2",1157).attr("stroke","#333").attr("stroke-width",1);
  g.append("line").attr("x1",395).attr("x2",764).attr("y1",y(0)).attr("y2",y(0)).attr("stroke","#333").attr("stroke-width",1);
  dTicks.forEach(v => {
    g.append("text").attr("x",x(v)).attr("y",1166).attr("text-anchor","middle").attr("font-size",6.5).attr("fill","#666").text(v.toFixed(1));
    g.append("text").attr("x",390).attr("y",y(v)+2).attr("text-anchor","end").attr("font-size",6.5).attr("fill","#666").text(v.toFixed(1));
  });
  g.append("text").attr("x",x(0)).attr("y",1178).attr("text-anchor","middle").attr("font-size",8).attr("font-weight","bold").attr("fill","#444").text("Component 1");
  g.append("text").attr("transform",`translate(373,${y(0)}) rotate(-90)`).attr("text-anchor","middle").attr("font-size",8).attr("font-weight","bold").attr("fill","#444").text("Component 2");
  const lab = [[32,4],[10,14],[-42,-4],[-44,-20],[12,-6],[-96,14],[-70,26]];
  compNames.forEach((nm,i) => {
    const px = x(comp1[i]), py = y(comp2[i]);
    g.append("line").attr("x1",px).attr("y1",py).attr("x2",px+lab[i][0]).attr("y2",py+lab[i][1]-3).attr("stroke","#555").attr("stroke-width",0.8);
  });
  compNames.forEach((nm,i) => {
    g.append("circle").attr("cx",x(comp1[i])).attr("cy",y(comp2[i])).attr("r",5.5).attr("fill",compColors[i]).attr("stroke","#666").attr("stroke-width",0.8);
  });
  compNames.forEach((nm,i) => {
    g.append("text").attr("x",x(comp1[i])+lab[i][0]).attr("y",y(comp2[i])+lab[i][1]).attr("font-size",7).attr("fill","#333").text(nm);
  });
}
</script>
</body></html>
